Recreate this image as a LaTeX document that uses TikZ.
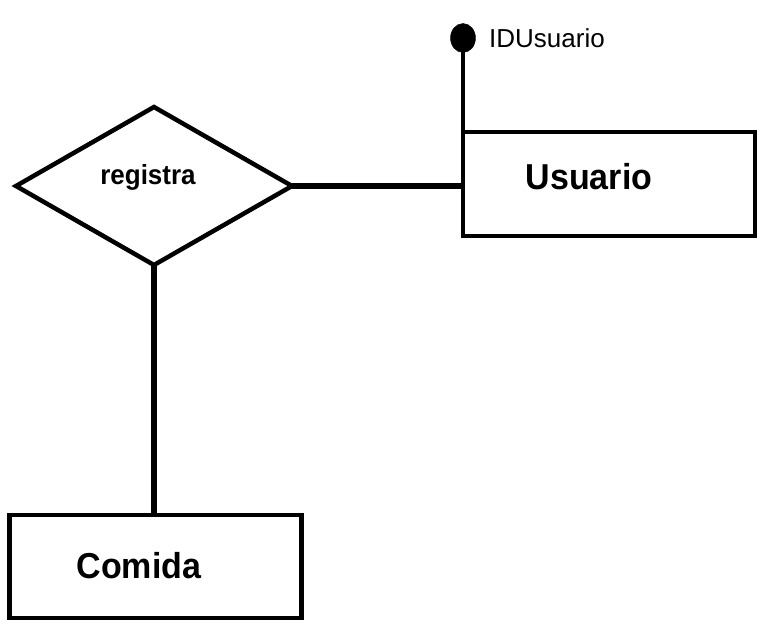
\documentclass[tikz,border=0pt]{standalone}
\usepackage{fontspec}
\setmainfont{Liberation Sans}
\usetikzlibrary{shapes.geometric}
\begin{document}
\begin{tikzpicture}[x=1pt,y=-1pt,
  ent/.style={draw,line width=4.5pt,rectangle,inner sep=0pt,outer sep=0pt},
  rel/.style={draw,line width=4.5pt,diamond,inner sep=0pt,outer sep=0pt},
  conn/.style={line width=5.5pt},
  lbl/.style={font=\bfseries\fontsize{34}{38}\selectfont,anchor=base,inner sep=0pt,yscale=1.06}]
\useasboundingbox (0,0) rectangle (773,628);
% entities
\node[ent,minimum width=292pt,minimum height=104pt] (usuario) at (609,184) {};
\node[ent,minimum width=292pt,minimum height=103pt] (comida) at (155.5,566.5) {};
\node[rel,minimum width=276pt,minimum height=158pt] (registra) at (154,186) {};
% labels
\node[lbl] (tusuario) at (589,190) {Usuario};
\node[lbl] (tcomida) at (139,578) {Comida};
\node[lbl,font=\bfseries\fontsize{26}{30}\selectfont] (tregistra) at (148,185) {registra};
% attribute
\node[draw,fill=black,ellipse,minimum width=25pt,minimum height=29pt,inner sep=0pt] (dot) at (463,38) {};
\node[anchor=base west,inner sep=0pt,font=\fontsize{26}{30}\selectfont] (tid) at (489,48) {IDUsuario};
% connectors
\draw[line width=4.5pt] (dot.center) -- (usuario.north west);
\draw[conn] (registra.east) -- (usuario.west |- registra.east);
\draw[conn] (registra.south) -- (comida.north -| registra.south);
\end{tikzpicture}
\end{document}
